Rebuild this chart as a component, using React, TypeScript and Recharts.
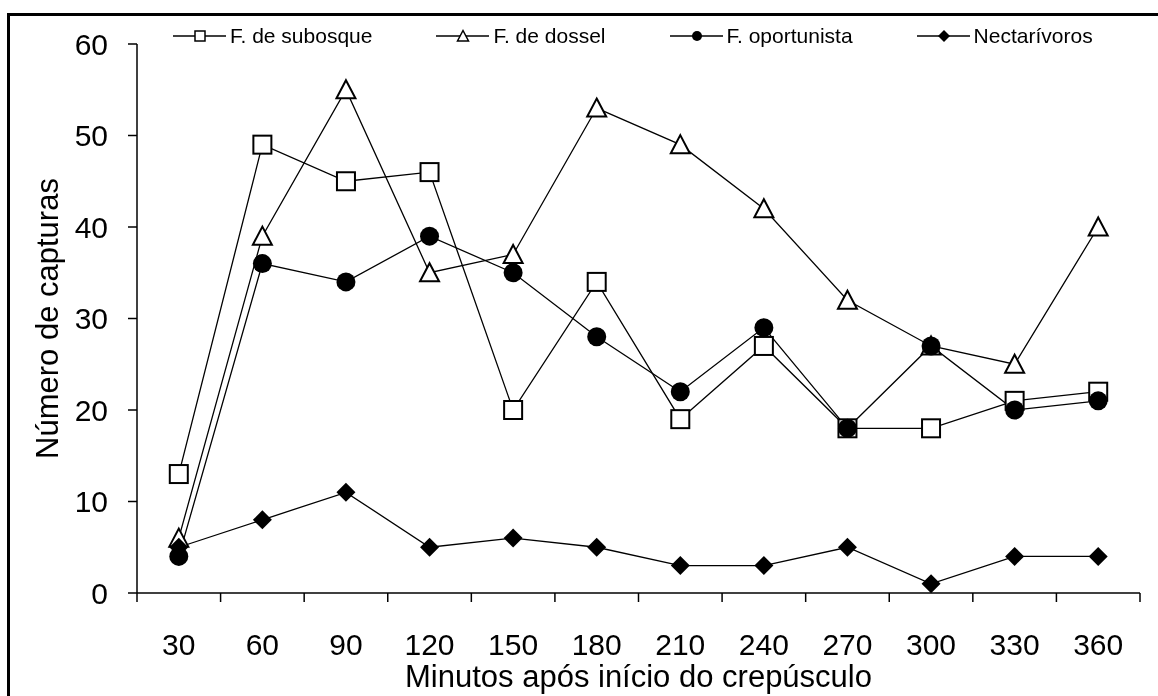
import React from 'react';
import { LineChart, Line, XAxis, YAxis } from 'recharts';

// capturas por intervalo de 30 min após o crepúsculo
const minutes = [30, 60, 90, 120, 150, 180, 210, 240, 270, 300, 330, 360];
const subosque = [13, 49, 45, 46, 20, 34, 19, 27, 18, 18, 21, 22];
const dossel = [6, 39, 55, 35, 37, 53, 49, 42, 32, 27, 25, 40];
const oportunista = [4, 36, 34, 39, 35, 28, 22, 29, 18, 27, 20, 21];
const nectarivoros = [5, 8, 11, 5, 6, 5, 3, 3, 5, 1, 4, 4];
const seriesNames = ['F. de subosque', 'F. de dossel', 'F. oportunista', 'Nectarívoros'];
const yTicks = [0, 10, 20, 30, 40, 50, 60];
const xTitle = 'Minutos após início do crepúsculo';
const yTitle = 'Número de capturas';

const data = minutes.map((m, i) => ({
  min: m,
  sub: subosque[i],
  dos: dossel[i],
  opo: oportunista[i],
  nec: nectarivoros[i],
}));

// tick marks sit between categories, labels on them
const half = (minutes[1] - minutes[0]) / 2;
const bounds = [minutes[0] - half, ...minutes.map((m) => m + half)];
const xTicks = [...bounds, ...minutes].sort((a, b) => a - b);

const FONT = '"Liberation Sans", Arial, sans-serif';

type Kind = 'square' | 'triangle' | 'circle' | 'diamond';

const Marker = ({ kind, cx, cy, s }: { kind: Kind; cx: number; cy: number; s: number }) => {
  const h = s / 2;
  if (kind === 'square')
    return <rect x={cx - h} y={cy - h} width={s} height={s} fill="#fff" stroke="#000" strokeWidth={s > 12 ? 2 : 1.5} />;
  if (kind === 'triangle')
    return (
      <polygon
        points={`${cx},${cy - h} ${cx + h},${cy + h * 0.9} ${cx - h},${cy + h * 0.9}`}
        fill="#fff"
        stroke="#000"
        strokeWidth={s > 12 ? 2 : 1.5}
      />
    );
  if (kind === 'circle') return <circle cx={cx} cy={cy} r={h} fill="#000" />;
  return <polygon points={`${cx},${cy - h} ${cx + h},${cy} ${cx},${cy + h} ${cx - h},${cy}`} fill="#000" />;
};

const dotFor = (kind: Kind, s: number) => (p: any) =>
  <Marker key={`${kind}-${p.index}`} kind={kind} cx={p.cx} cy={p.cy} s={s} />;

const XTick = (props: any) => {
  const { x, y, payload } = props;
  if (minutes.includes(payload.value)) {
    return (
      <text x={x} y={y + 62} textAnchor="middle" fontSize={30} fontFamily={FONT} fill="#000">
        {payload.value}
      </text>
    );
  }
  return <line x1={x} x2={x} y1={y} y2={y + 9} stroke="#000" strokeWidth={1.5} />;
};

const kinds: Kind[] = ['square', 'triangle', 'circle', 'diamond'];
const legendSizes = [10, 11, 10, 12];

const Legend = () => (
  <div
    style={{
      position: 'fixed',
      left: 173,
      top: 23,
      display: 'flex',
      gap: 64,
      fontFamily: FONT,
      fontSize: 21,
      lineHeight: '26px',
      whiteSpace: 'nowrap',
    }}
  >
    {seriesNames.map((name, i) => (
      <div key={name} style={{ display: 'flex', alignItems: 'center' }}>
        <svg width={53} height={26}>
          <line x1={0} x2={53} y1={13} y2={13} stroke="#000" strokeWidth={1.3} />
          <Marker kind={kinds[i]} cx={27} cy={13} s={legendSizes[i]} />
        </svg>
        <span style={{ marginLeft: 4 }}>{name}</span>
      </div>
    ))}
  </div>
);

export default function App() {
  return (
    <div>
      <div
        style={{
          position: 'fixed',
          left: 7,
          top: 13,
          width: 1300,
          height: 900,
          borderTop: '3px solid #000',
          borderLeft: '3px solid #000',
        }}
      />
      <div style={{ position: 'fixed', left: 0, top: 0 }}>
        <LineChart width={1158} height={696} data={data} margin={{ top: 44, right: 18, left: 0, bottom: 0 }}>
          <XAxis
            dataKey="min"
            type="number"
            domain={[bounds[0], bounds[bounds.length - 1]]}
            ticks={xTicks}
            interval={0}
            height={103}
            tickSize={0}
            tickMargin={0}
            tickLine={false}
            tick={<XTick />}
            axisLine={{ stroke: '#000', strokeWidth: 1.5 }}
            label={{
              content: (p: any) => {
                const vb = p.viewBox;
                return (
                  <text x={vb.x + vb.width / 2} y={vb.y + vb.height - 9} textAnchor="middle" fontSize={31} fontFamily={FONT} fill="#000">
                    {xTitle}
                  </text>
                );
              },
            }}
          />
          <YAxis
            type="number"
            domain={[0, 60]}
            ticks={yTicks}
            interval={0}
            width={137}
            tickSize={9}
            tickMargin={20}
            tick={{ fontSize: 30, fontFamily: FONT, fill: '#000' }}
            tickLine={{ stroke: '#000', strokeWidth: 1.5 }}
            axisLine={{ stroke: '#000', strokeWidth: 1.5 }}
            label={{
              content: (p: any) => {
                const vb = p.viewBox;
                const cx = vb.x + 47;
                const cy = vb.y + vb.height / 2;
                return (
                  <text
                    x={cx}
                    y={cy}
                    transform={`rotate(-90 ${cx} ${cy})`}
                    textAnchor="middle"
                    dominantBaseline="central"
                    fontSize={31}
                    fontFamily={FONT}
                    fill="#000"
                  >
                    {yTitle}
                  </text>
                );
              },
            }}
          />
          <Line dataKey="sub" name={seriesNames[0]} stroke="#000" strokeWidth={1.3} dot={dotFor('square', 18)} isAnimationActive={false} />
          <Line dataKey="dos" name={seriesNames[1]} stroke="#000" strokeWidth={1.3} dot={dotFor('triangle', 19)} isAnimationActive={false} />
          <Line dataKey="opo" name={seriesNames[2]} stroke="#000" strokeWidth={1.3} dot={dotFor('circle', 19)} isAnimationActive={false} />
          <Line dataKey="nec" name={seriesNames[3]} stroke="#000" strokeWidth={1.3} dot={dotFor('diamond', 19)} isAnimationActive={false} />
        </LineChart>
      </div>
      <Legend />
    </div>
  );
}
